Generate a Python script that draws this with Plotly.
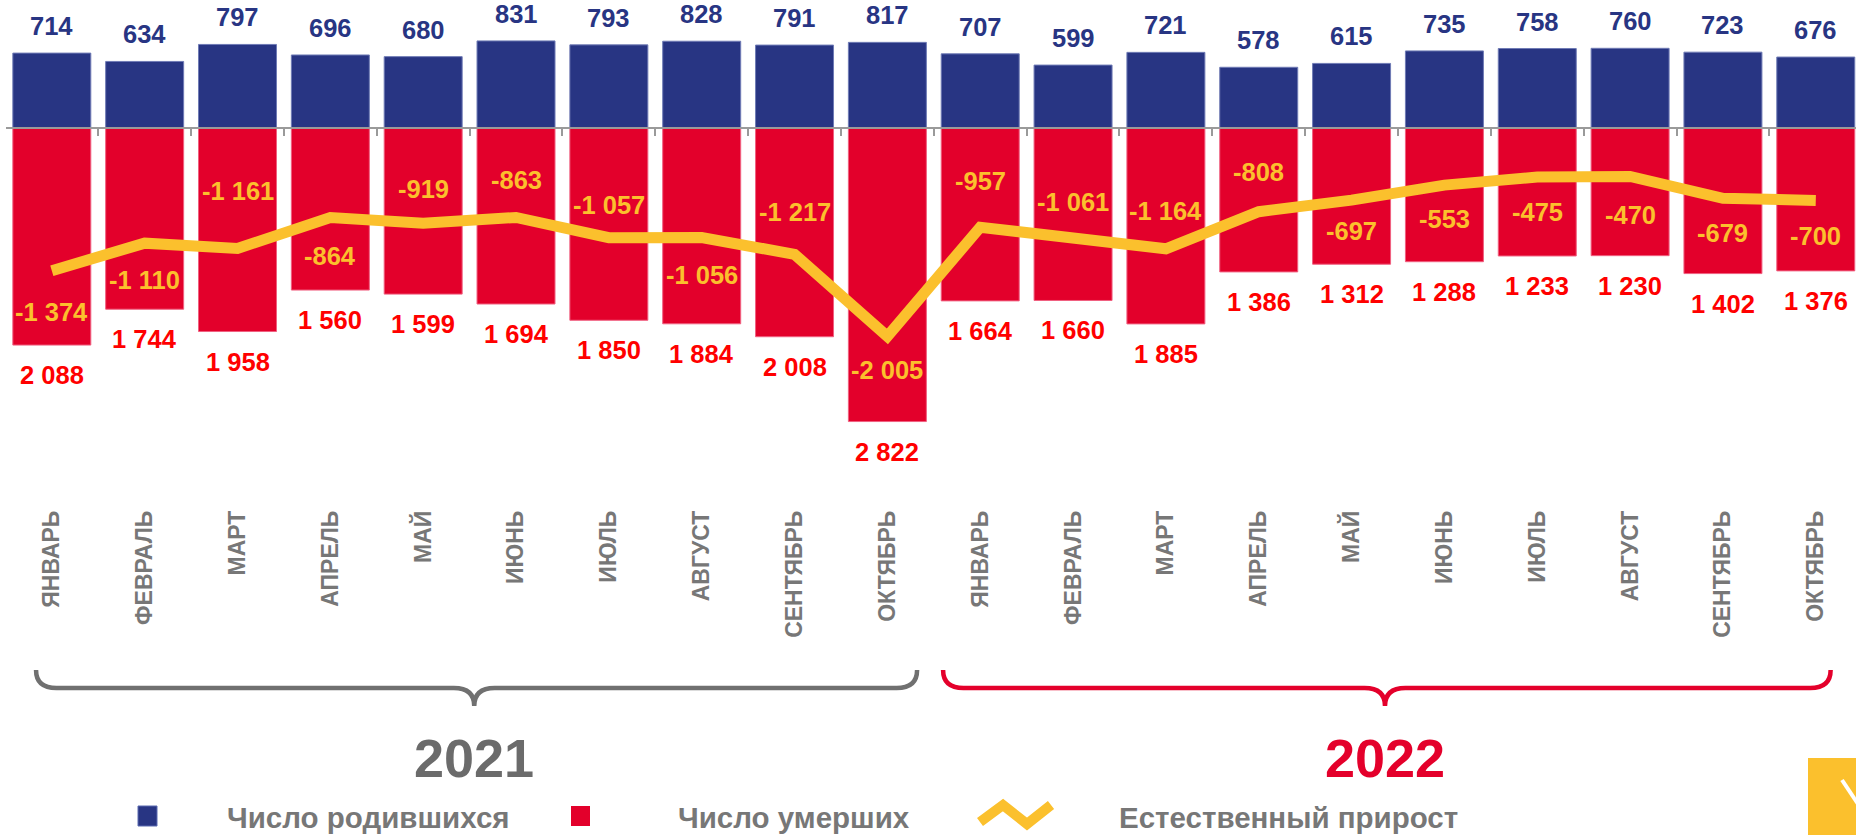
import plotly.graph_objects as go

# ---------------- data ----------------
months = ["ЯНВАРЬ", "ФЕВРАЛЬ", "МАРТ", "АПРЕЛЬ", "МАЙ", "ИЮНЬ", "ИЮЛЬ", "АВГУСТ", "СЕНТЯБРЬ", "ОКТЯБРЬ",
          "ЯНВАРЬ", "ФЕВРАЛЬ", "МАРТ", "АПРЕЛЬ", "МАЙ", "ИЮНЬ", "ИЮЛЬ", "АВГУСТ", "СЕНТЯБРЬ", "ОКТЯБРЬ"]
births = [714, 634, 797, 696, 680, 831, 793, 828, 791, 817,
          707, 599, 721, 578, 615, 735, 758, 760, 723, 676]
deaths = [2088, 1744, 1958, 1560, 1599, 1694, 1850, 1884, 2008, 2822,
          1664, 1660, 1885, 1386, 1312, 1288, 1233, 1230, 1402, 1376]
natural = [-1374, -1110, -1161, -864, -919, -863, -1057, -1056, -1217, -2005,
           -957, -1061, -1164, -808, -697, -553, -475, -470, -679, -700]
years = ["2021", "2022"]

# ---------------- styling ----------------
BLUE = "#283583"
RED = "#e3002b"
RED_TXT = "#ff0000"
YEL = "#fbc02d"
GRAY = "#777777"
FONT = "Liberation Sans, Arial, sans-serif"

# pixel offsets of the natural-increase labels (positive = below line)
nat_label_offset = [41, 37, -57, 38, -34, -37, -33, 37, -42, 34,
                    -46, -36, -38, -40, 31, 34, 35, 39, 35, 36]

W, H = 1856, 835
ML, MR, MT = 6, 0, 0
PH = 505
MB = H - MT - PH
PW = W - ML - MR
UNIT = 92.84                      # px per category
XMIN = -0.5 - (ML - 6.6) / UNIT
XMAX = XMIN + PW / UNIT
ZERO_Y = 127.5                    # zero line, px from top of plot
SCALE = 0.1042                    # px per person
YMAX = ZERO_Y / SCALE
YMIN = -(PH - ZERO_Y) / SCALE


def px(X):
    """pixel x -> paper x"""
    return (X - ML) / PW


def py(Y):
    """pixel y -> paper y"""
    return (MT + PH - Y) / PH


def fmt(v):
    s = f"{abs(v):,}".replace(",", " ")
    return ("-" if v < 0 else "") + s


x = list(range(len(months)))
neg_deaths = [-d for d in deaths]

fig = go.Figure()
fig.add_trace(go.Bar(x=x, y=births, marker=dict(color=BLUE, line=dict(color="#6f7bb5", width=1)),
                     width=0.84, name="Число родившихся", showlegend=False, hoverinfo="skip"))
fig.add_trace(go.Bar(x=x, y=neg_deaths, marker=dict(color=RED, line=dict(color="#f06080", width=1)),
                     width=0.84, name="Число умерших", showlegend=False, hoverinfo="skip"))
fig.add_trace(go.Scatter(x=x, y=natural, mode="lines", line=dict(color=YEL, width=11),
                         name="Естественный прирост", showlegend=False, hoverinfo="skip"))
# invisible helper trace for the zero axis with boundary ticks
fig.add_trace(go.Scatter(x=x, y=births, mode="markers", opacity=0, xaxis="x2",
                         showlegend=False, hoverinfo="skip"))

annotations = []
lbl_font = dict(family=FONT, size=25.5, weight="bold")
for i in x:
    annotations.append(dict(x=i, y=births[i], text=fmt(births[i]), showarrow=False,
                            yanchor="middle", yshift=27, font=dict(lbl_font, color=BLUE)))
    annotations.append(dict(x=i, y=neg_deaths[i], text=fmt(deaths[i]), showarrow=False,
                            yanchor="middle", yshift=-30, font=dict(lbl_font, color=RED_TXT)))
    annotations.append(dict(x=i, y=natural[i], text=fmt(natural[i]), showarrow=False,
                            yanchor="middle", yshift=-nat_label_offset[i], font=dict(lbl_font, color=YEL)))

shapes = []
# braces
brace_colors = ["#707070", "#e4002b"]
brace_ext = [(-0.17, 9.32, 4.55), (9.60, 19.16, 14.36)]
ytop, ymid, ytip = py(670), py(688), py(706)
r = 0.22
for (xl, xr, xt), col in zip(brace_ext, brace_colors):
    path = (f"M {xl},{ytop} Q {xl},{ymid} {xl + r},{ymid} L {xt - r},{ymid} "
            f"Q {xt},{ymid} {xt},{ytip} Q {xt},{ymid} {xt + r},{ymid} "
            f"L {xr - r},{ymid} Q {xr},{ymid} {xr},{ytop}")
    shapes.append(dict(type="path", path=path, xref="x", yref="paper",
                       line=dict(color=col, width=4.5)))

# year labels
year_colors = ["#6b6b6b", "#e4002b"]
year_x = [4.55, 14.36]
for yr, col, xc in zip(years, year_colors, year_x):
    annotations.append(dict(x=xc, xref="x", y=py(758), yref="paper", text=yr, showarrow=False,
                            yanchor="middle", xanchor="center",
                            font=dict(family=FONT, size=54, weight="bold", color=col)))

# manual legend
leg_font = dict(family=FONT, size=29.5, weight="bold", color=GRAY)
shapes.append(dict(type="rect", xref="paper", yref="paper", x0=px(138), x1=px(157), y0=py(806), y1=py(826),
                   fillcolor=BLUE, line=dict(color="#5a6ab0", width=1)))
shapes.append(dict(type="rect", xref="paper", yref="paper", x0=px(571), x1=px(590), y0=py(806), y1=py(826),
                   fillcolor=RED, line=dict(width=0)))
shapes.append(dict(type="path", xref="paper", yref="paper",
                   path=f"M {px(980)},{py(822)} L {px(1003)},{py(805)} L {px(1027)},{py(824)} L {px(1051)},{py(805)}",
                   line=dict(color=YEL, width=10)))
annotations.append(dict(x=px(225), y=py(817), xref="paper", yref="paper", text="Число родившихся",
                        showarrow=False, xanchor="left", yanchor="middle", font=leg_font))
annotations.append(dict(x=px(676), y=py(817), xref="paper", yref="paper", text="Число умерших",
                        showarrow=False, xanchor="left", yanchor="middle", font=leg_font))
annotations.append(dict(x=px(1117), y=py(817), xref="paper", yref="paper", text="Естественный прирост",
                        showarrow=False, xanchor="left", yanchor="middle", font=leg_font))

# decorative yellow corner block
shapes.append(dict(type="rect", xref="paper", yref="paper", x0=px(1808), x1=px(1860), y0=py(758), y1=py(840),
                   fillcolor=YEL, line=dict(width=0)))
shapes.append(dict(type="line", xref="paper", yref="paper", x0=px(1842), y0=py(780), x1=px(1858), y1=py(804),
                   line=dict(color="white", width=4)))

zero_pos = (0 - YMIN) / (YMAX - YMIN)

fig.update_layout(
    width=W, height=H,
    margin=dict(l=ML, r=MR, t=MT, b=MB),
    paper_bgcolor="white", plot_bgcolor="white",
    barmode="overlay",
    showlegend=False,
    xaxis=dict(range=[XMIN, XMAX], tickmode="array", tickvals=x, ticktext=months, tickangle=-90,
               showline=False, ticks="", showgrid=False, zeroline=False,
               tickfont=dict(family=FONT, size=23, weight="bold", color=GRAY)),
    xaxis2=dict(range=[XMIN, XMAX], overlaying="x", anchor="free", position=zero_pos, side="bottom",
                showline=True, linecolor="#9a9a9a", linewidth=2, ticks="outside", ticklen=7,
                tickcolor="#9a9a9a", tickwidth=1.5, tickmode="array",
                tickvals=[i - 0.5 for i in x], showticklabels=False, showgrid=False, zeroline=False),
    yaxis=dict(range=[YMIN, YMAX], visible=False, showgrid=False, zeroline=False),
    annotations=annotations,
    shapes=shapes,
)

fig.write_html("out.html", config={"displayModeBar": False},
               post_script="document.body.style.margin='0px';document.body.style.overflow='hidden';")
